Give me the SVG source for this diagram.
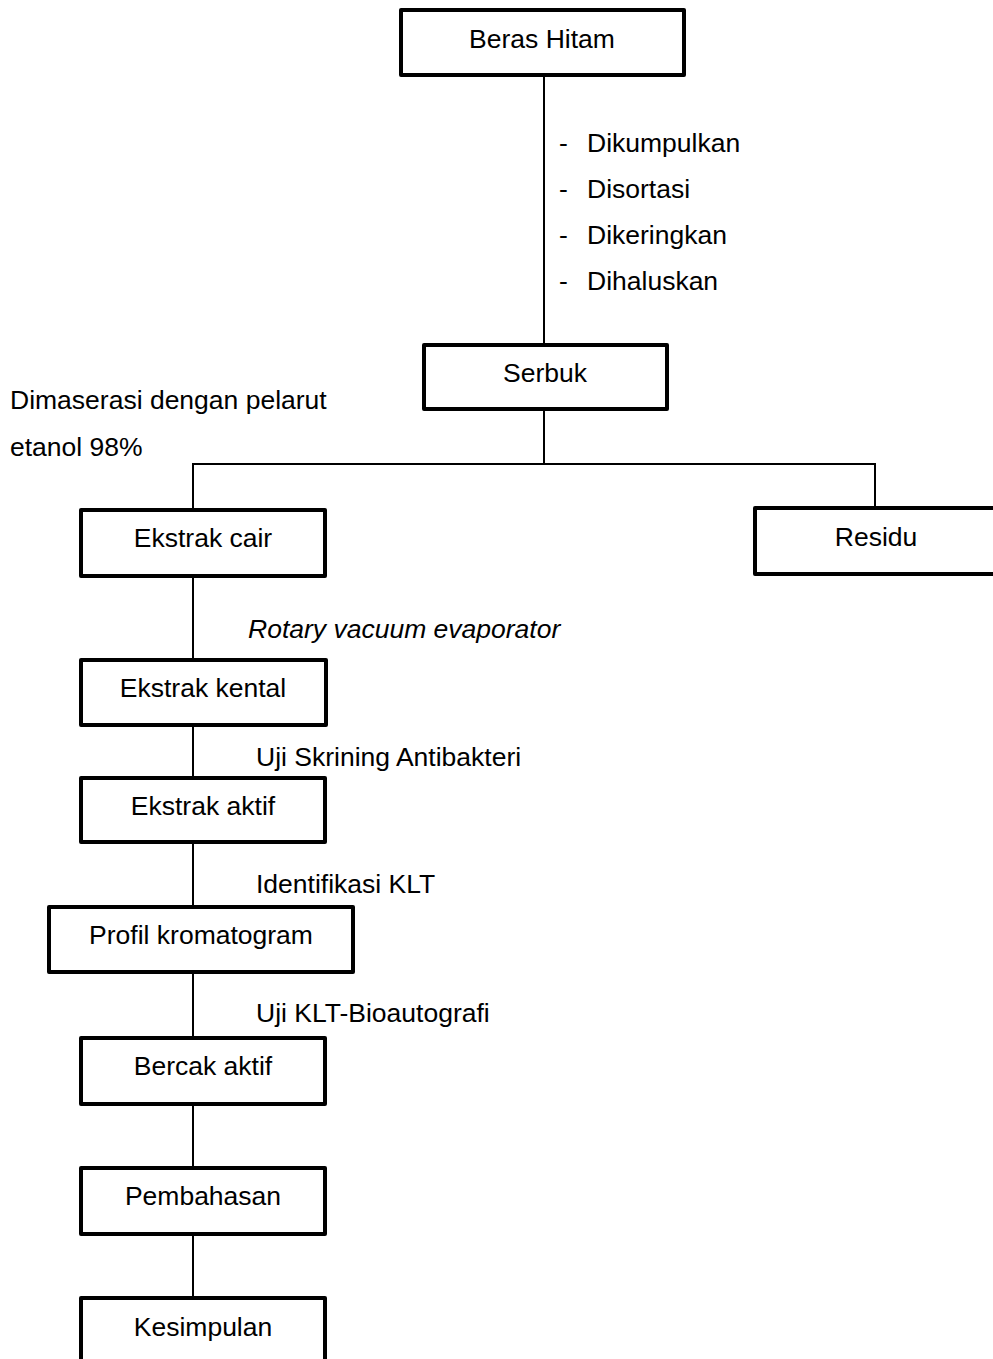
<svg xmlns="http://www.w3.org/2000/svg" width="993" height="1359" viewBox="0 0 993 1359">
<style>
.box{fill:#fff;stroke:#000;stroke-width:4;stroke-linejoin:round}
.ln{stroke:#000;stroke-width:2;fill:none}
text{font-family:"Liberation Sans",Arial,sans-serif;font-size:26.5px;fill:#000}
.c{text-anchor:middle}
.i{font-style:italic}
</style>
<rect width="993" height="1359" fill="#fff"/>
<g id="connectors">
<line class="ln" x1="544" y1="77" x2="544" y2="343"/>
<line class="ln" x1="544" y1="411" x2="544" y2="464"/>
<polyline class="ln" points="193,508 193,464 875,464 875,506"/>
<line class="ln" x1="193" y1="578" x2="193" y2="658"/>
<line class="ln" x1="193" y1="727" x2="193" y2="776"/>
<line class="ln" x1="193" y1="844" x2="193" y2="905"/>
<line class="ln" x1="193" y1="974" x2="193" y2="1036"/>
<line class="ln" x1="193" y1="1106" x2="193" y2="1166"/>
<line class="ln" x1="193" y1="1236" x2="193" y2="1296"/>
</g>
<g id="labels">
<text x="559" y="152">-</text><text x="587" y="152">Dikumpulkan</text>
<text x="559" y="198">-</text><text x="587" y="198">Disortasi</text>
<text x="559" y="244">-</text><text x="587" y="244">Dikeringkan</text>
<text x="559" y="290">-</text><text x="587" y="290">Dihaluskan</text>
<text x="10" y="409">Dimaserasi dengan pelarut</text>
<text x="10" y="456">etanol 98%</text>
<text class="i" x="248" y="638">Rotary vacuum evaporator</text>
<text x="256" y="766">Uji Skrining Antibakteri</text>
<text x="256" y="893">Identifikasi KLT</text>
<text x="256" y="1022">Uji KLT-Bioautografi</text>
</g>
<g id="beras-hitam"><rect class="box" x="401" y="10" width="283" height="65"/><text class="c" x="542" y="48">Beras Hitam</text></g>
<g id="serbuk"><rect class="box" x="424" y="345" width="243" height="64"/><text class="c" x="545" y="382">Serbuk</text></g>
<g id="ekstrak-cair"><rect class="box" x="81" y="510" width="244" height="66"/><text class="c" x="203" y="547">Ekstrak cair</text></g>
<g id="residu"><rect class="box" x="755" y="508" width="260" height="66"/><text class="c" x="876" y="546">Residu</text></g>
<g id="ekstrak-kental"><rect class="box" x="81" y="660" width="245" height="65"/><text class="c" x="203" y="697">Ekstrak kental</text></g>
<g id="ekstrak-aktif"><rect class="box" x="81" y="778" width="244" height="64"/><text class="c" x="203" y="815">Ekstrak aktif</text></g>
<g id="profil-kromatogram"><rect class="box" x="49" y="907" width="304" height="65"/><text class="c" x="201" y="944">Profil kromatogram</text></g>
<g id="bercak-aktif"><rect class="box" x="81" y="1038" width="244" height="66"/><text class="c" x="203" y="1075">Bercak aktif</text></g>
<g id="pembahasan"><rect class="box" x="81" y="1168" width="244" height="66"/><text class="c" x="203" y="1205">Pembahasan</text></g>
<g id="kesimpulan"><rect class="box" x="81" y="1298" width="244" height="80"/><text class="c" x="203" y="1336">Kesimpulan</text></g>
</svg>
